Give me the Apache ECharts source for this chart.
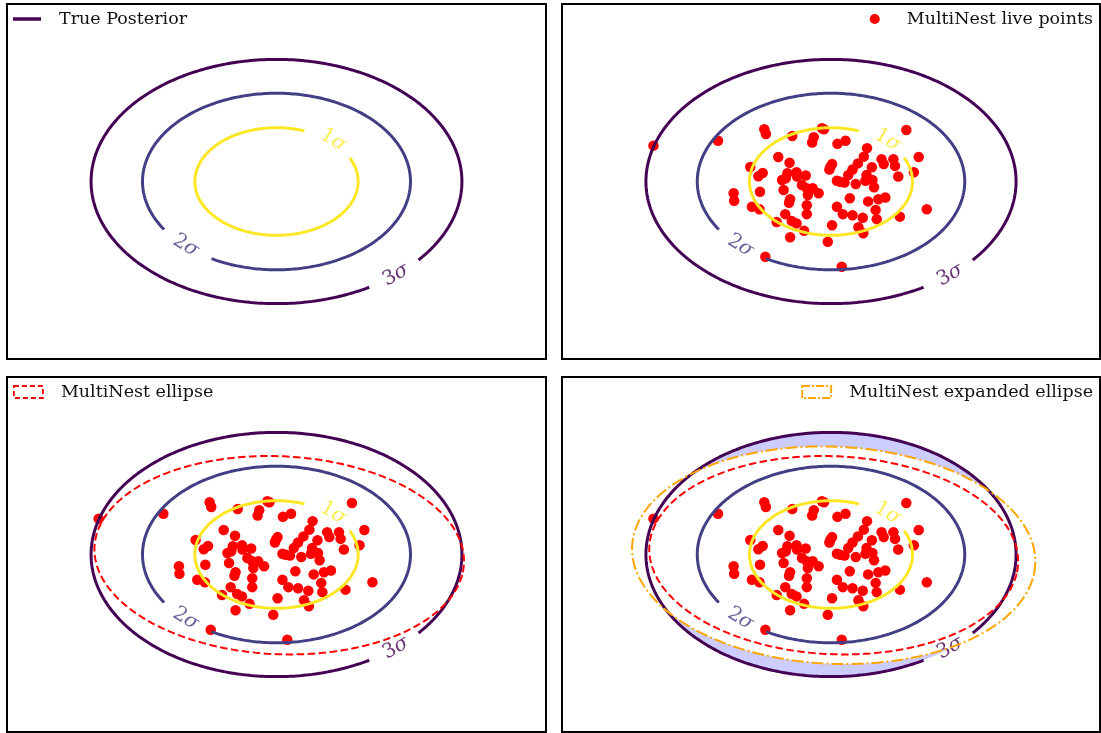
<!DOCTYPE html>
<html><head><meta charset="utf-8">
<script src="https://cdn.jsdelivr.net/npm/echarts@6/dist/echarts.min.js"></script>
<style>html,body{margin:0;padding:0;background:#fff}#c{width:1101px;height:733px}</style>
</head><body><div id="c"></div>
<script>
// ---------------- data ----------------
const legendNames = ['True Posterior', 'MultiNest live points', 'MultiNest ellipse', 'MultiNest expanded ellipse'];
const contourNames = ['1σ', '2σ', '3σ'];
const contourRadii = [1.515, 2.486, 3.44];          // Gaussian 1σ/2σ/3σ contour radii (unit posterior)
const contourColors = ['#fde725', '#423f85', '#440154'];
const contourGapStart = [26, 213, 300];             // degrees where label gap starts
const contourGapEnd = [70, 241, 320];
const contourLabelAngle = [48, 227, 310];
const contourLabelRadius = [1.57, 2.47, 3.44];
const livePointsX = [-2.10,-1.24,-1.21,-0.72,-0.17,-0.13,-0.32,-0.35,0.12,0.27,
  0.67,1.40,1.63,1.54,1.78,1.28,-0.98,-0.77,-1.50,-1.27,
  -1.35,-1.32,-1.81,-1.80,-1.47,-1.33,-1.01,-0.76,-1.22,0.20,
  -0.06,-0.50,-0.64,-0.73,-0.85,-0.45,-0.45,-0.76,-0.78,-0.81,
  -0.84,-0.91,-0.64,-0.63,-0.47,-0.54,-0.45,-0.34,-0.43,-0.23,
  -0.88,-0.01,0.02,-0.03,0.11,0.17,0.25,0.32,0.40,0.50,
  0.61,0.46,0.64,0.66,0.76,0.77,0.80,0.94,0.98,1.16,
  1.19,1.25,0.35,0.11,0.22,0.40,0.59,0.69,0.88,1.01,
  0.83,0.85,0.02,0.51,0.60,-3.30];
const livePointsY = [1.15,1.47,1.34,1.28,1.50,1.47,1.25,1.10,1.06,1.15,
  0.94,1.45,0.69,0.26,-0.78,-0.99,0.69,0.53,0.41,0.24,
  0.15,-0.29,-0.33,-0.54,-0.71,-0.78,-1.14,-1.57,-2.12,-2.40,
  -1.70,-1.39,-1.18,-1.11,-0.92,-0.92,-0.67,-0.50,-0.60,0.23,
  0.09,0.04,0.26,0.14,0.17,-0.10,-0.19,-0.19,-0.38,-0.33,
  -0.24,0.42,0.49,0.34,0.02,-0.01,-0.03,0.18,0.34,0.51,
  0.70,-0.07,0.02,0.18,0.40,0.04,-0.16,0.63,0.49,0.63,
  0.44,0.14,-0.47,-0.71,-0.92,-0.95,-1.02,-0.56,-0.50,-0.45,
  -0.80,-1.06,-1.23,-1.29,-1.46,1.01];
const ellipseCentre = [0.05, -0.02];
const multinestAxes = [3.44, 2.78];
const expandedAxes = [3.76, 3.05];
const ellipseTiltDeg = -8;
const axisRange = [-5, 5];

// ---------------- layout / style ----------------
const FONT = 'DejaVu Serif';
const FS = 17.5;
const LFS = 20;
const grids = [
  {left: 7, top: 4, width: 539, height: 355},
  {left: 562, top: 4, width: 538, height: 355},
  {left: 7, top: 377, width: 539, height: 355},
  {left: 562, top: 377, width: 538, height: 355}
];
const RAD = Math.PI / 180;

function ellipsePath(cx, cy, a, b, tiltDeg, fromDeg, toDeg, stepDeg) {
  const pts = [];
  const c = Math.cos(tiltDeg * RAD), s = Math.sin(tiltDeg * RAD);
  for (let t = fromDeg; t <= toDeg + 1e-9; t += stepDeg) {
    const u = a * Math.cos(t * RAD), v = b * Math.sin(t * RAD);
    pts.push([cx + u * c - v * s, cy + u * s + v * c]);
  }
  return pts;
}

const series = [];
grids.forEach((g, i) => {
  const pxX = g.width / (axisRange[1] - axisRange[0]);
  const pxY = g.height / (axisRange[1] - axisRange[0]);
  // panel 4 shading: inside 3σ but outside expanded ellipse
  if (i === 3) {
    series.push({
      type: 'custom', xAxisIndex: i, yAxisIndex: i, silent: true, data: [[0, 0]],
      renderItem: (params, api) => {
        const outer = ellipsePath(0, 0, contourRadii[2], contourRadii[2], 0, 0, 360, 1).map(p => api.coord(p));
        const inner = ellipsePath(ellipseCentre[0], ellipseCentre[1], expandedAxes[0], expandedAxes[1], ellipseTiltDeg, 0, 360, 1).map(p => api.coord(p));
        return {type: 'group', children: [
          {type: 'polygon', shape: {points: outer}, style: {fill: '#ccccff'}},
          {type: 'polygon', shape: {points: inner}, style: {fill: '#ffffff'}}
        ]};
      }
    });
  }
  // contours with label gaps
  contourRadii.forEach((r, k) => {
    series.push({
      type: 'line', name: k === 2 ? legendNames[0] : 'contour ' + contourNames[k],
      xAxisIndex: i, yAxisIndex: i, symbol: 'none', silent: true,
      data: ellipsePath(0, 0, r, r, 0, contourGapEnd[k], contourGapStart[k] + 360, 1),
      itemStyle: {color: contourColors[k]},
      lineStyle: {color: contourColors[k], width: 3}
    });
  });
  // contour labels
  series.push({
    type: 'scatter', name: 'contour labels', xAxisIndex: i, yAxisIndex: i, symbolSize: 0, silent: true,
    data: contourNames.map((nm, k) => {
      const th = contourLabelAngle[k] * RAD;
      let ang = Math.atan2(Math.cos(th) * pxY, -Math.sin(th) * pxX) / RAD;
      if (ang > 90) ang -= 180; if (ang < -90) ang += 180;
      return {name: nm, value: [contourLabelRadius[k] * Math.cos(th), contourLabelRadius[k] * Math.sin(th)],
        label: {rotate: ang, color: contourColors[k]}};
    }),
    label: {show: true, position: 'inside',
      formatter: p => '{n|' + p.name.charAt(0) + '}{s|σ}',
      rich: {n: {fontFamily: FONT, fontSize: LFS}, s: {fontFamily: FONT, fontSize: LFS, fontStyle: 'italic'}}}
  });
  if (i >= 2) {
    series.push({
      type: 'line', name: legendNames[2], xAxisIndex: i, yAxisIndex: i, symbol: 'none', silent: true,
      data: ellipsePath(ellipseCentre[0], ellipseCentre[1], multinestAxes[0], multinestAxes[1], ellipseTiltDeg, 0, 360, 1),
      itemStyle: {color: '#ff0000'},
      lineStyle: {color: '#ff0000', width: 2, type: [7.5, 3.5]}
    });
  }
  if (i === 3) {
    series.push({
      type: 'line', name: legendNames[3], xAxisIndex: i, yAxisIndex: i, symbol: 'none', silent: true,
      data: ellipsePath(ellipseCentre[0], ellipseCentre[1], expandedAxes[0], expandedAxes[1], ellipseTiltDeg, 0, 360, 1),
      itemStyle: {color: '#ffa500'},
      lineStyle: {color: '#ffa500', width: 2, type: [12, 3, 2, 3]}
    });
  }
  if (i >= 1) {
    series.push({
      type: 'scatter', name: legendNames[1], xAxisIndex: i, yAxisIndex: i, symbolSize: 10.5, silent: true,
      itemStyle: {color: '#ff0000', opacity: 1},
      data: livePointsX.map((x, j) => [x, livePointsY[j]])
    });
  }
});

const axisBase = {type: 'value', min: axisRange[0], max: axisRange[1], show: false, splitLine: {show: false}};
const textStyle = {fontFamily: FONT, fontSize: FS, color: '#111', padding: [0, 0, 0, 13]};
const legends = [
  {data: [legendNames[0]], left: 13, top: 10, icon: 'rect', itemWidth: 28, itemHeight: 3.5,
   itemStyle: {color: '#440154'}},
  {data: [legendNames[1]], right: 8, top: 10, icon: 'circle', itemWidth: 28, itemHeight: 10,
   itemStyle: {color: '#ff0000'}},
  {data: [legendNames[2]], left: 13, top: 383, icon: 'rect', itemWidth: 29, itemHeight: 12,
   itemStyle: {color: 'rgba(0,0,0,0)', borderColor: '#ff0000', borderWidth: 1.8, borderType: [5, 3]}},
  {data: [legendNames[3]], right: 8, top: 383, icon: 'rect', itemWidth: 29, itemHeight: 12,
   itemStyle: {color: 'rgba(0,0,0,0)', borderColor: '#ffa500', borderWidth: 1.8, borderType: [8, 2, 2, 2]}}
].map(l => Object.assign({selectedMode: false, textStyle: textStyle, padding: 0}, l));

const chart = echarts.init(document.getElementById('c'), null, {renderer: 'canvas'});
chart.setOption({
  animation: false,
  backgroundColor: '#ffffff',
  grid: grids.map(g => Object.assign({show: true, borderColor: '#000', borderWidth: 2, backgroundColor: 'transparent'}, g)),
  xAxis: grids.map((g, i) => Object.assign({gridIndex: i}, axisBase)),
  yAxis: grids.map((g, i) => Object.assign({gridIndex: i}, axisBase)),
  legend: legends,
  series: series
});
</script></body></html>
